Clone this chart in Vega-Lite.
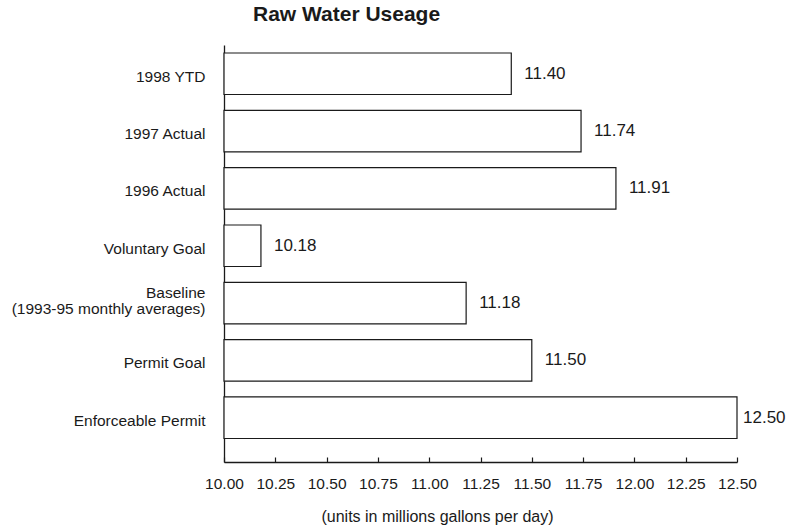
{
  "$schema": "https://vega.github.io/schema/vega-lite/v6.json",
  "width": 513,
  "height": 417,
  "autosize": {"type": "none"},
  "padding": {"left": 224, "top": 45, "right": 60, "bottom": 63},
  "title": {"text": "Raw Water Useage", "anchor": "start", "frame": "group", "dx": 29, "offset": 20, "fontSize": 21, "font": "Liberation Sans", "fontWeight": "bold", "color": "#1a1a1a"},
  "data": {
    "values": [
      {"category": "1998 YTD", "value": 11.40},
      {"category": "1997 Actual", "value": 11.74},
      {"category": "1996 Actual", "value": 11.91},
      {"category": "Voluntary Goal", "value": 10.18},
      {"category": "Baseline\n(1993-95 monthly averages)", "value": 11.18},
      {"category": "Permit Goal", "value": 11.50},
      {"category": "Enforceable Permit", "value": 12.50}
    ]
  },
  "config": {
    "view": {"stroke": null},
    "font": "Liberation Sans",
    "axis": {"domainColor": "#1a1a1a", "labelColor": "#1a1a1a", "titleColor": "#1a1a1a", "tickColor": "#1a1a1a", "grid": false, "labelFont": "Liberation Sans", "titleFont": "Liberation Sans"}
  },
  "encoding": {
    "y": {
      "field": "category", "type": "nominal", "sort": null,
      "scale": {"paddingInner": 0.276, "paddingOuter": 0.275, "align": 0.254},
      "axis": {
        "title": null, "ticks": false, "labelPadding": 19, "labelFontSize": 15.5,
        "labelExpr": "split(datum.label, '\\n')", "labelLineHeight": 16, "domainWidth": 1.3, "labelLimit": 300,
        "labelOffset": {"condition": {"test": "indexof(datum.value, 'Baseline') == 0", "value": -10}, "value": 3}
      }
    },
    "x": {
      "field": "value", "type": "quantitative",
      "scale": {"domain": [10, 12.5], "nice": false, "zero": false},
      "axis": {
        "values": [10, 10.25, 10.5, 10.75, 11, 11.25, 11.5, 11.75, 12, 12.25, 12.5],
        "format": ".2f", "tickSize": -5, "tickWidth": 1.2, "labelPadding": 19, "labelFontSize": 15.5,
        "labelFlush": false, "labelOverlap": false, "domainWidth": 1.3,
        "title": "(units in millions gallons per day)", "titleFontSize": 16, "titleFontWeight": "normal",
        "titleX": 213, "titleY": 54, "titleBaseline": "middle", "titleAlign": "center"
      }
    }
  },
  "layer": [
    {"mark": {"type": "bar", "fill": "white", "stroke": "#1a1a1a", "strokeWidth": 1.2}, "encoding": {"x2": {"datum": 10}}},
    {"transform": [{"filter": "datum.value < 12.5"}], "mark": {"type": "text", "align": "left", "dx": 13, "fontSize": 17, "color": "#1a1a1a"}, "encoding": {"text": {"field": "value", "type": "quantitative", "format": ".2f"}}},
    {"transform": [{"filter": "datum.value >= 12.5"}], "mark": {"type": "text", "align": "left", "dx": 6, "fontSize": 17, "color": "#1a1a1a"}, "encoding": {"text": {"field": "value", "type": "quantitative", "format": ".2f"}}}
  ]
}
